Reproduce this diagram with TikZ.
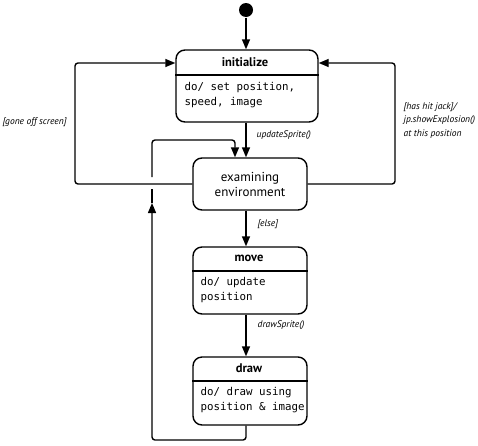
\documentclass[tikz,border=0pt]{standalone}
\usepackage{fontspec}
\setmainfont{PT Sans}
\newfontfamily\monof{DejaVu Sans Mono}
\usetikzlibrary{arrows.meta}
\begin{document}
\begin{tikzpicture}[x=1pt,y=-1pt,
  line width=1.4pt,
  state/.style={draw, rounded corners=9pt, line width=1.4pt},
  divider/.style={line width=1.2pt},
  hdr/.style={font=\fontsize{12.5}{14}\selectfont\bfseries, inner sep=0pt},
  body/.style={font=\monof\fontsize{10.8}{14.5}\selectfont, align=left, inner sep=0pt, anchor=north west},
  lbl/.style={font=\fontsize{9.5}{13.5}\selectfont\itshape, inner sep=0pt, align=left},
  arr/.style={-{Triangle[length=10pt,width=8pt]}, rounded corners=3pt}]
\useasboundingbox (0,0) rectangle (478,445);
% initial
\fill (246,10) circle (7);
\node[circle, minimum size=14pt, inner sep=0pt] (start) at (246,10) {};
% initialize
\node[state, minimum width=142pt, minimum height=72pt] (init) at (247,86) {};
\draw[divider] (init.west |- 0,75) -- (init.east |- 0,75);
\node[hdr] (initT) at (245,62) {initialize};
\node[body] (initB) at (184,82) {do/ set position,\\speed, image};
% examining
\node[state, minimum width=114pt, minimum height=52pt, align=center,
      font=\fontsize{13}{15}\selectfont] (exam) at (250,184) {examining\\environment};
% move
\node[state, minimum width=114pt, minimum height=67pt] (move) at (250,280.5) {};
\draw[divider] (move.west |- 0,271) -- (move.east |- 0,271);
\node[hdr] (moveT) at (249,258) {move};
\node[body] (moveB) at (200,277) {do/ update\\position};
% draw
\node[state, minimum width=114pt, minimum height=68pt] (drawst) at (250,391) {};
\draw[divider] (drawst.west |- 0,381) -- (drawst.east |- 0,381);
\node[hdr] (drawT) at (249,368) {draw};
\node[body] (drawB) at (200,387) {do/ draw using\\position \& image};
% connectors
\draw[arr] (start) -- (init.north -| start);
\draw[arr] (init.south -| 246,0) -- (exam.north -| 246,0);
\node[lbl, anchor=west] (l1) at (256,135) {updateSprite()};
\draw[arr] (exam.south -| 246,0) -- (move.north -| 246,0);
\node[lbl, anchor=west] (l2) at (257,224) {[else]};
\draw[arr] (move.south -| 246,0) -- (drawst.north -| 246,0);
\node[lbl, anchor=west] (l3) at (257,325) {drawSprite()};
% left loop
\draw[arr] (exam.west) -| (75,63) -- (init.west |- 0,63);
\node[lbl, anchor=west] (l4) at (2,122) {[gone off screen]};
% right loop
\draw[arr] (exam.east) -| (395,63) -- (init.east |- 0,63);
\node[lbl, anchor=north west] (l5) at (403,102) {[has hit jack]/\\jp.showExplosion()\\at this position};
% bottom loop
\coordinate (b1) at (152,203);
\draw[arr] (drawst.south -| 246,0) |- (152,440) -- (b1);
\draw (b1) -- (152,189);
\draw[arr] (152,177) |- (235,140) -- (exam.north -| 235,0);
\end{tikzpicture}
\end{document}
